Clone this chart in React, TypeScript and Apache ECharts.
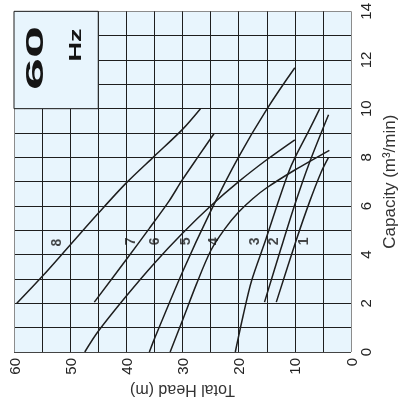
import React, { useEffect, useRef } from "react";
import * as echarts from "echarts";

// Axis ticks (label values)
const headTickLabels = [0, 10, 20, 30, 40, 50, 60];
const capacityTickLabels = [0, 2, 4, 6, 8, 10, 12, 14];

// Pump curves: [Total Head (m), Capacity (m3/min)]
const curve8 = [[59.5, 2.0], [55, 3.1], [50, 4.4], [45, 5.7], [40, 6.95], [35, 8.05], [30, 9.15], [26.8, 10.0]];
const curve7 = [[45.7, 2.05], [40, 3.8], [36, 5.05], [32.4, 6.2], [30.1, 7.05], [27, 8.1], [24.4, 8.97]];
const curve6 = [[47.4, 0], [45, 0.85], [40, 2.3], [35, 3.65], [30, 4.88], [25, 6.0], [20, 7.0], [15, 7.9], [10, 8.72]];
const curve5 = [[35.9, 0], [35, 0.54], [30, 3.29], [25, 5.78], [20, 8.02], [15, 9.97], [10, 11.68]];
const curve4 = [[32.2, 0], [30, 1.3], [27.5, 2.8], [25, 4.15], [22.5, 5.05], [20, 5.75], [17.5, 6.3], [15, 6.75], [10, 7.48], [3.85, 8.29]];
const curve3 = [[20.6, 0], [19.2, 1.5], [17.7, 2.93], [15.2, 4.6], [13, 6.14], [11.1, 7.4], [10, 7.98], [7.5, 9.1], [5.6, 9.98]];
const curve2 = [[15.4, 2.05], [12.5, 4.23], [10, 6.06], [7.5, 7.72], [4.0, 9.75]];
const curve1 = [[13.3, 2.05], [9.8, 4.56], [7.35, 6.19], [5.3, 7.4], [4.0, 8.0]];

const curveNames = ["8", "7", "6", "5", "4", "3", "2", "1"];
const curves = [curve8, curve7, curve6, curve5, curve4, curve3, curve2, curve1];

// Curve number label positions
const labelHead = [52.5, 39.3, 35.0, 29.5, 24.5, 17.3, 13.8, 8.5];
const labelCap = [4.5, 4.55, 4.55, 4.55, 4.55, 4.55, 4.55, 4.55];

// "60 Hz" box extent
const boxHead = [60, 45];
const boxCap = [10, 14];

const BG = "#e8f5fd";
const LINE = "#1e1e1e";
const FONT = "'Liberation Sans', Arial, Helvetica, sans-serif";

export default function App() {
  const ref = useRef<HTMLDivElement>(null);

  useEffect(() => {
    if (!ref.current) return;
    const chart = echarts.init(ref.current, undefined, { renderer: "svg" });

    const xColors: string[] = [];
    for (let v = 0; v <= 60; v += 5) xColors.push(v === 0 || v === 60 ? "#8c8c8c" : LINE);
    const yColors: string[] = [];
    for (let v = 0; v <= 14; v += 1) yColors.push(v === 14 ? "#8c8c8c" : v === 0 ? "#444" : LINE);

    const lineSeries = curves.map((c, i) => ({
      type: "line",
      name: curveNames[i],
      data: c,
      smooth: 0.3,
      symbol: "none",
      lineStyle: { color: LINE, width: 1.5 },
      z: 3,
    }));

    const option: any = {
      animation: false,
      grid: {
        left: 14,
        top: 8,
        right: 49,
        bottom: 56,
        show: true,
        backgroundColor: BG,
        borderWidth: 0,
      },
      xAxis: {
        type: "value",
        inverse: true,
        min: 0,
        max: 60,
        interval: 5,
        axisLine: { show: false },
        axisTick: { show: false },
        axisLabel: {
          rotate: 90,
          margin: 6,
          fontSize: 15,
          color: "#222",
          fontFamily: FONT,
          formatter: (v: number) => (headTickLabels.includes(v) ? String(v) : ""),
        },
        splitLine: { show: true, lineStyle: { color: xColors, width: 1 } },
        name: "Total Head (m)",
        nameLocation: "middle",
        nameGap: 28,
        nameRotate: 180,
        nameTextStyle: { fontSize: 16, color: "#333", fontFamily: FONT },
      },
      yAxis: {
        type: "value",
        position: "right",
        min: 0,
        max: 14,
        interval: 1,
        axisLine: { show: false },
        axisTick: { show: false },
        axisLabel: {
          rotate: 90,
          margin: 7,
          fontSize: 15,
          color: "#222",
          fontFamily: FONT,
          formatter: (v: number) => (capacityTickLabels.includes(v) ? String(v) : ""),
        },
        splitLine: { show: true, lineStyle: { color: yColors, width: 1 } },
        name: "Capacity (m³/min)",
        nameLocation: "middle",
        nameGap: 30,
        nameRotate: 90,
        nameTextStyle: { fontSize: 17, color: "#333", fontFamily: FONT },
      },
      series: [
        {
          type: "scatter",
          data: curveNames.map((n, i) => [labelHead[i], labelCap[i], n]),
          symbolSize: 2,
          itemStyle: { color: "rgba(0,0,0,0)" },
          z: 4,
          label: {
            show: true,
            position: "inside",
            rotate: 90,
            fontSize: 14,
            fontWeight: "bold",
            color: "#1a1a1a",
            fontFamily: FONT,
            formatter: (p: any) => p.value[2],
          },
          labelLayout: { hideOverlap: false },
          markArea: {
            silent: true,
            itemStyle: { color: BG, borderColor: LINE, borderWidth: 1 },
            data: [[{ coord: [boxHead[0], boxCap[1]] }, { coord: [boxHead[1], boxCap[0]] }]],
          },
        },
        ...lineSeries,
      ],
      graphic: [
        {
          type: "text",
          x: 34,
          y: 58,
          rotation: Math.PI / 2,
          scaleX: 2.35,
          z: 100,
          style: {
            text: "60",
            fontSize: 24.5,
            fontWeight: "bold",
            fontFamily: FONT,
            fill: "#151515",
            textAlign: "center",
            textVerticalAlign: "middle",
            align: "center",
            verticalAlign: "middle",
          },
        },
        {
          type: "text",
          x: 75,
          y: 45,
          rotation: Math.PI / 2,
          scaleX: 1.6,
          z: 100,
          style: {
            text: "Hz",
            fontSize: 17,
            fontWeight: "bold",
            fontFamily: FONT,
            fill: "#151515",
            textAlign: "center",
            textVerticalAlign: "middle",
            align: "center",
            verticalAlign: "middle",
          },
        },
      ],
    };

    chart.setOption(option);
    return () => chart.dispose();
  }, []);

  return (
    <div
      ref={ref}
      style={{ position: "fixed", left: 0, top: 0, width: 406, height: 408 }}
    />
  );
}
